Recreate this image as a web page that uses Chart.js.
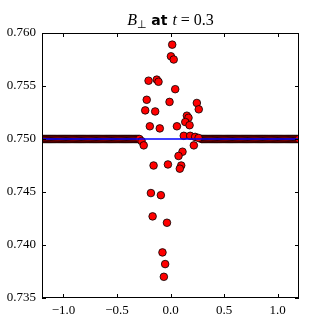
<!DOCTYPE html>
<html>
<head>
<meta charset="utf-8">
<script src="https://cdn.jsdelivr.net/npm/chart.js@4/dist/chart.umd.min.js"></script>
<style>
  html, body { margin: 0; padding: 0; background: #fff; }
  #wrap { width: 332px; height: 332px; }
</style>
</head>
<body>
<div id="wrap"><canvas id="grafico"></canvas></div>
<script>
// flat part of the numerical solution, all at the base level
const baseLevel = 0.750;
const flatX = [
  -1.20, -1.19, -1.18, -1.17, -1.16, -1.15, -1.14, -1.13, -1.12, -1.11,
  -1.10, -1.09, -1.08, -1.07, -1.06, -1.05, -1.04, -1.03, -1.02, -1.01,
  -1.00, -0.99, -0.98, -0.97, -0.96, -0.95, -0.94, -0.93, -0.92, -0.91,
  -0.90, -0.89, -0.88, -0.87, -0.86, -0.85, -0.84, -0.83, -0.82, -0.81,
  -0.80, -0.79, -0.78, -0.77, -0.76, -0.75, -0.74, -0.73, -0.72, -0.71,
  -0.70, -0.69, -0.68, -0.67, -0.66, -0.65, -0.64, -0.63, -0.62, -0.61,
  -0.60, -0.59, -0.58, -0.57, -0.56, -0.55, -0.54, -0.53, -0.52, -0.51,
  -0.50, -0.49, -0.48, -0.47, -0.46, -0.45, -0.44, -0.43, -0.42, -0.41,
  -0.40, -0.39, -0.38, -0.37, -0.36, -0.35, -0.34, -0.33, -0.32, -0.31,
  -0.30, -0.29,
  0.29, 0.30, 0.31, 0.32, 0.33, 0.34, 0.35, 0.36, 0.37, 0.38, 0.39,
  0.40, 0.41, 0.42, 0.43, 0.44, 0.45, 0.46, 0.47, 0.48, 0.49,
  0.50, 0.51, 0.52, 0.53, 0.54, 0.55, 0.56, 0.57, 0.58, 0.59,
  0.60, 0.61, 0.62, 0.63, 0.64, 0.65, 0.66, 0.67, 0.68, 0.69,
  0.70, 0.71, 0.72, 0.73, 0.74, 0.75, 0.76, 0.77, 0.78, 0.79,
  0.80, 0.81, 0.82, 0.83, 0.84, 0.85, 0.86, 0.87, 0.88, 0.89,
  0.90, 0.91, 0.92, 0.93, 0.94, 0.95, 0.96, 0.97, 0.98, 0.99,
  1.00, 1.01, 1.02, 1.03, 1.04, 1.05, 1.06, 1.07, 1.08, 1.09,
  1.10, 1.11, 1.12, 1.13, 1.14, 1.15, 1.16, 1.17, 1.18, 1.19, 1.20
];

// scattered points near the centre
const noisyX = [
  0.016, 0.004, 0.030, -0.205, -0.128, -0.112, 0.044, -0.222, -0.009, 0.246,
  0.264, -0.236, -0.143, 0.153, 0.168, 0.138, 0.178, -0.193, -0.100, 0.060,
  0.124, 0.184, 0.230, 0.262, -0.270, -0.250, 0.218, 0.112, 0.075, -0.158,
  -0.024, 0.100, 0.087, -0.183, -0.090, -0.167, -0.033, -0.075, -0.050, -0.062
];
const noisyY = [
  0.7589, 0.7578, 0.7575, 0.7555, 0.7556, 0.7554, 0.7547, 0.7537, 0.7535, 0.7534,
  0.7528, 0.7527, 0.7526, 0.7522, 0.7520, 0.7516, 0.7513, 0.7512, 0.7510, 0.7512,
  0.7503, 0.7503, 0.7502, 0.7501, 0.7498, 0.7494, 0.7494, 0.7488, 0.7484, 0.7475,
  0.7476, 0.7475, 0.7472, 0.7449, 0.7447, 0.7427, 0.7421, 0.7393, 0.7382, 0.7370
];

// exact solution line
const lineX = [-1.2, 1.2];
const lineY = [0.750, 0.750];

const xRange = [-1.2, 1.2];
const yRange = [0.735, 0.760];
const xStep = 0.5;
const yStep = 0.005;

const puntos = flatX.map(x => ({ x: x, y: baseLevel }))
  .concat(noisyX.map((x, i) => ({ x: x, y: noisyY[i] })));
const linea = lineX.map((x, i) => ({ x: x, y: lineY[i] }));

const serif = '"Liberation Serif", "DejaVu Serif", serif';

// frame, inward ticks on all four sides and the mixed-font title
const marco = {
  id: 'marco',
  afterDatasetsDraw(chart) {
    const ctx = chart.ctx;
    const a = chart.chartArea;
    const sx = chart.scales.x;
    const sy = chart.scales.y;
    ctx.save();
    ctx.strokeStyle = '#000';
    ctx.lineWidth = 1;
    ctx.beginPath();
    sx.ticks.forEach(t => {
      const px = Math.round(sx.getPixelForValue(t.value)) + 0.5;
      ctx.moveTo(px, a.bottom); ctx.lineTo(px, a.bottom - 4);
      ctx.moveTo(px, a.top); ctx.lineTo(px, a.top + 4);
    });
    sy.ticks.forEach(t => {
      const py = Math.round(sy.getPixelForValue(t.value)) + 0.5;
      ctx.moveTo(a.left, py); ctx.lineTo(a.left + 4, py);
      ctx.moveTo(a.right, py); ctx.lineTo(a.right - 4, py);
    });
    ctx.stroke();
    ctx.strokeRect(Math.round(a.left) + 0.5, Math.round(a.top) + 0.5,
      Math.round(a.right - a.left) - 1, Math.round(a.bottom - a.top) - 1);
    ctx.restore();
  },
  afterDraw(chart) {
    const ctx = chart.ctx;
    const a = chart.chartArea;
    const parts = [
      { text: 'B', font: 'italic 16px ' + serif, dy: 0 },
      { text: '\u22A5', font: '11px "DejaVu Sans", sans-serif', dy: 3 },
      { text: ' at ', font: 'bold 14px "DejaVu Sans", sans-serif', dy: 0 },
      { text: 't', font: 'italic 16px ' + serif, dy: 0 },
      { text: ' = 0.3', font: '16px ' + serif, dy: 0 }
    ];
    ctx.save();
    ctx.fillStyle = '#000';
    ctx.textBaseline = 'alphabetic';
    let total = 0;
    parts.forEach(p => { ctx.font = p.font; p.w = ctx.measureText(p.text).width; total += p.w; });
    let x = (a.left + a.right) / 2 - total / 2;
    parts.forEach(p => {
      ctx.font = p.font;
      ctx.fillText(p.text, x, 25 + p.dy);
      x += p.w;
    });
    ctx.restore();
  }
};

new Chart(document.getElementById('grafico'), {
  type: 'scatter',
  data: {
    datasets: [
      {
        type: 'line',
        data: linea,
        borderColor: '#0000ff',
        borderWidth: 1.3,
        pointRadius: 0,
        fill: false,
        order: 0,
        clip: 0
      },
      {
        data: puntos,
        backgroundColor: '#ff0000',
        borderColor: '#000000',
        borderWidth: 0.8,
        pointRadius: 3.8,
        order: 1,
        clip: 0
      }
    ]
  },
  options: {
    responsive: true,
    maintainAspectRatio: false,
    animation: false,
    layout: { padding: { top: 33, right: 33, left: 0, bottom: 0 } },
    plugins: {
      legend: { display: false },
      tooltip: { enabled: false },
      title: { display: false }
    },
    scales: {
      x: {
        type: 'linear',
        min: xRange[0],
        max: xRange[1],
        grid: { display: false, drawTicks: false },
        border: { display: false },
        afterFit(scale) { scale.height = 34; },
        ticks: {
          stepSize: xStep,
          includeBounds: false,
          padding: 5,
          color: '#000',
          font: { family: serif, size: 13 },
          callback: v => (v < 0 ? '\u2212' : '') + Math.abs(v).toFixed(1)
        }
      },
      y: {
        type: 'linear',
        min: yRange[0],
        max: yRange[1],
        grid: { display: false, drawTicks: false },
        border: { display: false },
        afterFit(scale) { scale.width = 42; },
        ticks: {
          stepSize: yStep,
          includeBounds: false,
          padding: 6,
          color: '#000',
          font: { family: serif, size: 13 },
          callback: v => v.toFixed(3)
        }
      }
    }
  },
  plugins: [marco]
});
</script>
</body>
</html>
